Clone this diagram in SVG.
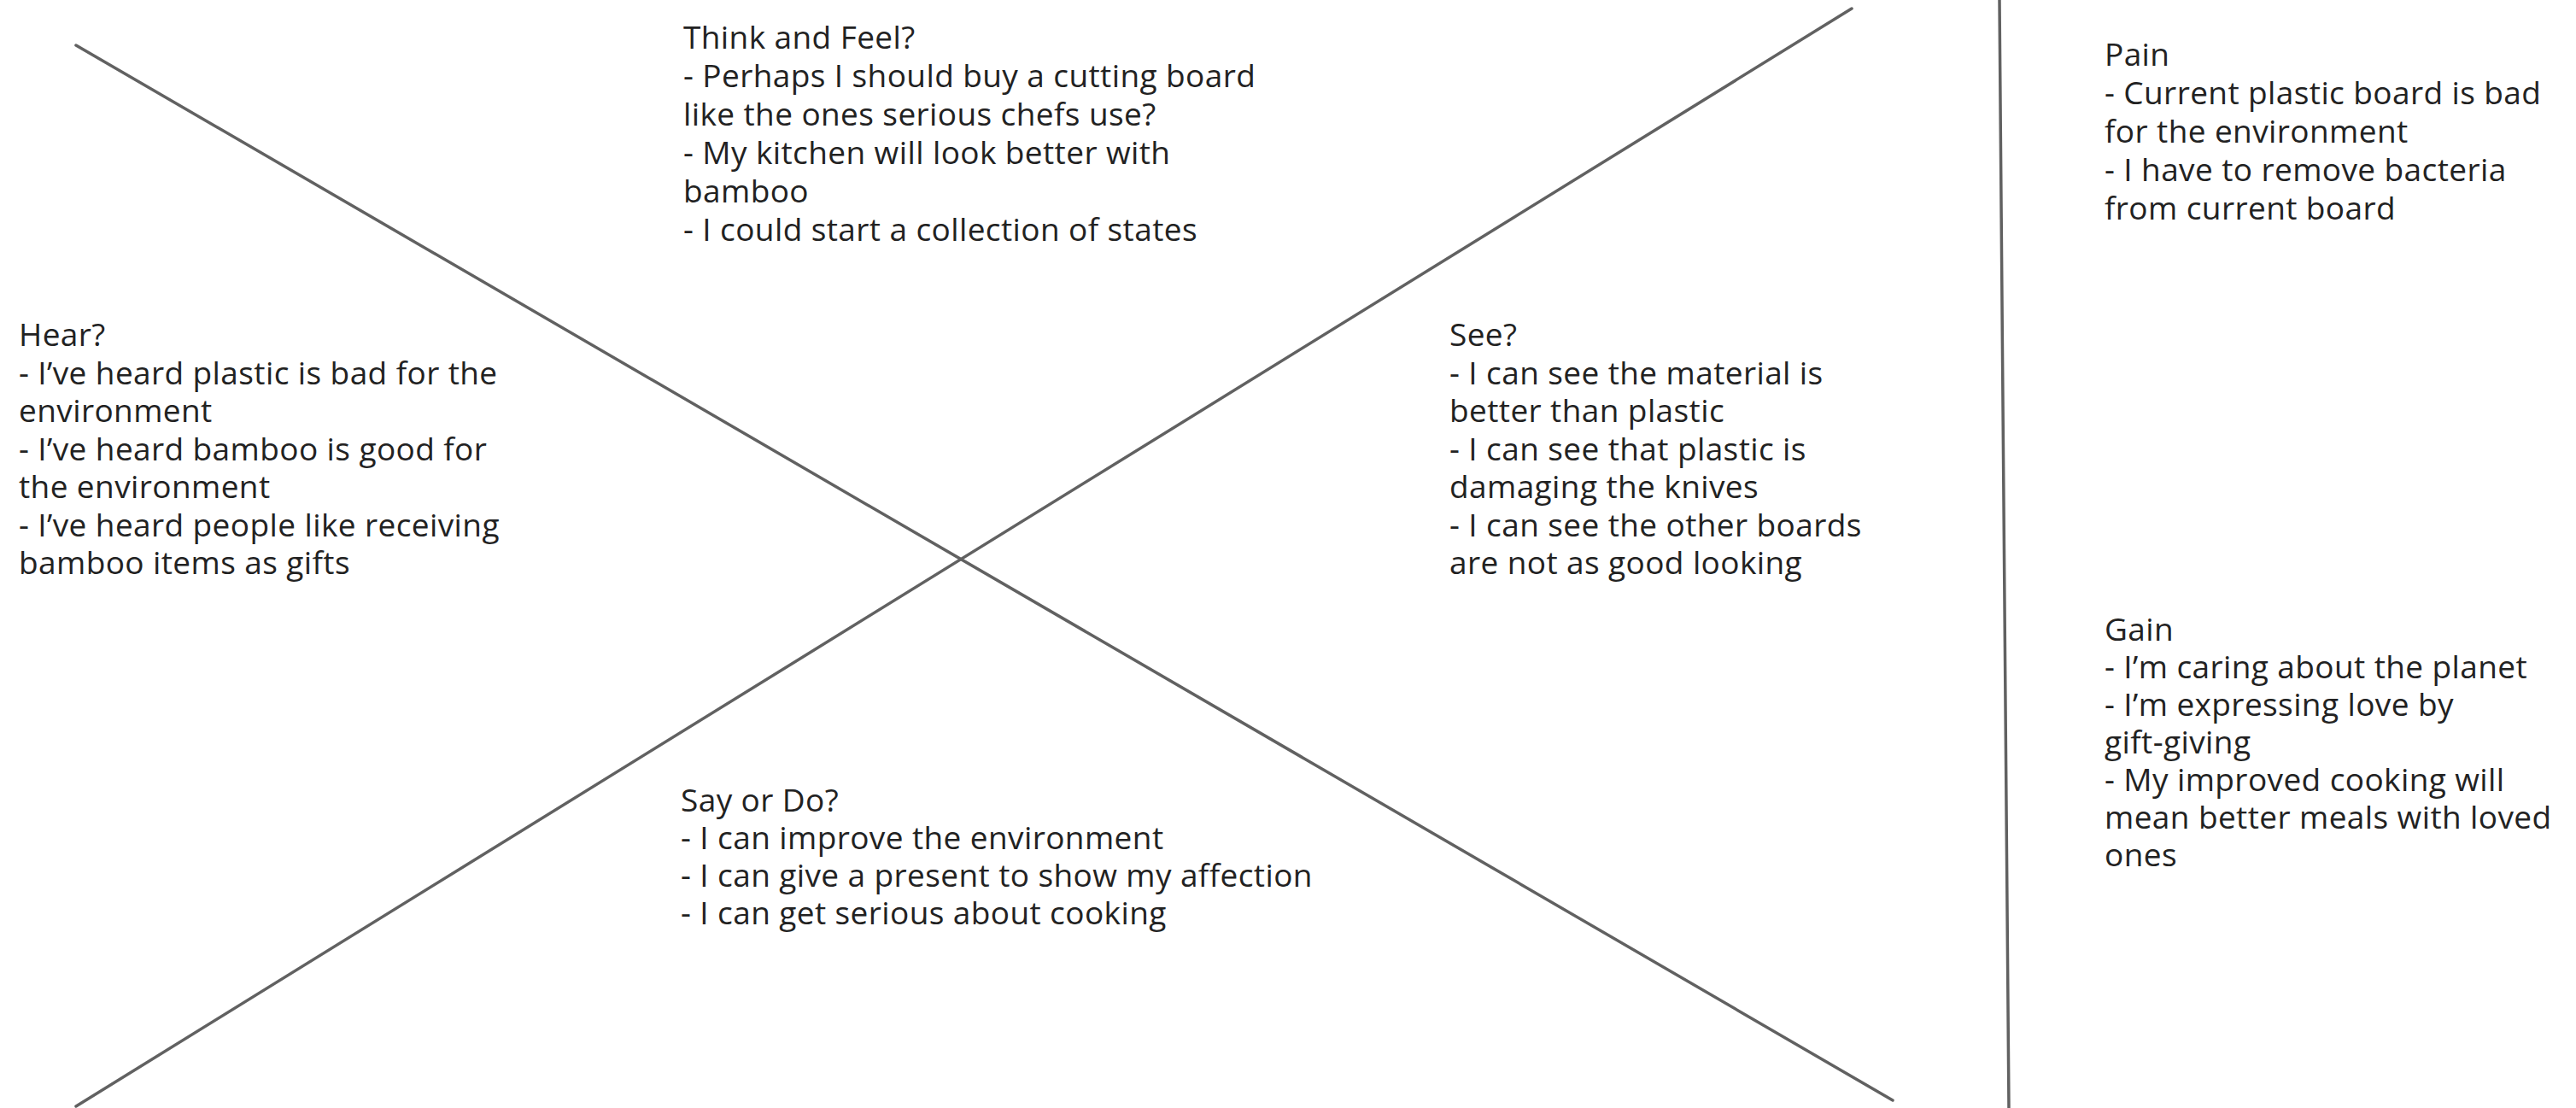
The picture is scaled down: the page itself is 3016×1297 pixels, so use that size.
<svg xmlns="http://www.w3.org/2000/svg" width="3016" height="1297" viewBox="0 0 3016 1297">
<style>
.bg{fill:#ffffff}
.ln{stroke:#616161;stroke-width:3.5;fill:none;stroke-linecap:round}
.t{font-family:"Open Sans","Liberation Sans",sans-serif;font-size:37px;letter-spacing:0.4px;fill:#222222}
</style>
<rect class="bg" x="0" y="0" width="3016" height="1297"/>
<g id="connectors">
<line class="ln" x1="89" y1="53" x2="2216" y2="1288"/>
<line class="ln" x1="89" y1="1295" x2="2168" y2="10"/>
<line class="ln" x1="2341" y1="0" x2="2352" y2="1297"/>
</g>
<g id="think-feel">
<text class="t"><tspan x="800" y="57">Think and Feel?</tspan><tspan x="800" y="102">- Perhaps I should buy a cutting board</tspan><tspan x="800" y="147">like the ones serious chefs use?</tspan><tspan x="800" y="192">- My kitchen will look better with</tspan><tspan x="800" y="237">bamboo</tspan><tspan x="800" y="282">- I could start a collection of states</tspan></text>
</g>
<g id="hear">
<text class="t"><tspan x="22" y="405">Hear?</tspan><tspan x="22" y="449.5">- I’ve heard plastic is bad for the</tspan><tspan x="22" y="494">environment</tspan><tspan x="22" y="538.5">- I’ve heard bamboo is good for</tspan><tspan x="22" y="583">the environment</tspan><tspan x="22" y="627.5">- I’ve heard people like receiving</tspan><tspan x="22" y="672">bamboo items as gifts</tspan></text>
</g>
<g id="see">
<text class="t"><tspan x="1697" y="405">See?</tspan><tspan x="1697" y="449.5">- I can see the material is</tspan><tspan x="1697" y="494">better than plastic</tspan><tspan x="1697" y="538.5">- I can see that plastic is</tspan><tspan x="1697" y="583">damaging the knives</tspan><tspan x="1697" y="627.5">- I can see the other boards</tspan><tspan x="1697" y="672">are not as good looking</tspan></text>
</g>
<g id="say-do">
<text class="t"><tspan x="797" y="950">Say or Do?</tspan><tspan x="797" y="994">- I can improve the environment</tspan><tspan x="797" y="1038">- I can give a present to show my affection</tspan><tspan x="797" y="1082">- I can get serious about cooking</tspan></text>
</g>
<g id="pain">
<text class="t"><tspan x="2464" y="77">Pain</tspan><tspan x="2464" y="122">- Current plastic board is bad</tspan><tspan x="2464" y="167">for the environment</tspan><tspan x="2464" y="212">- I have to remove bacteria</tspan><tspan x="2464" y="257">from current board</tspan></text>
</g>
<g id="gain">
<text class="t"><tspan x="2464" y="750">Gain</tspan><tspan x="2464" y="794">- I’m caring about the planet</tspan><tspan x="2464" y="838">- I’m expressing love by</tspan><tspan x="2464" y="882">gift-giving</tspan><tspan x="2464" y="926">- My improved cooking will</tspan><tspan x="2464" y="970">mean better meals with loved</tspan><tspan x="2464" y="1014">ones</tspan></text>
</g>
</svg>
